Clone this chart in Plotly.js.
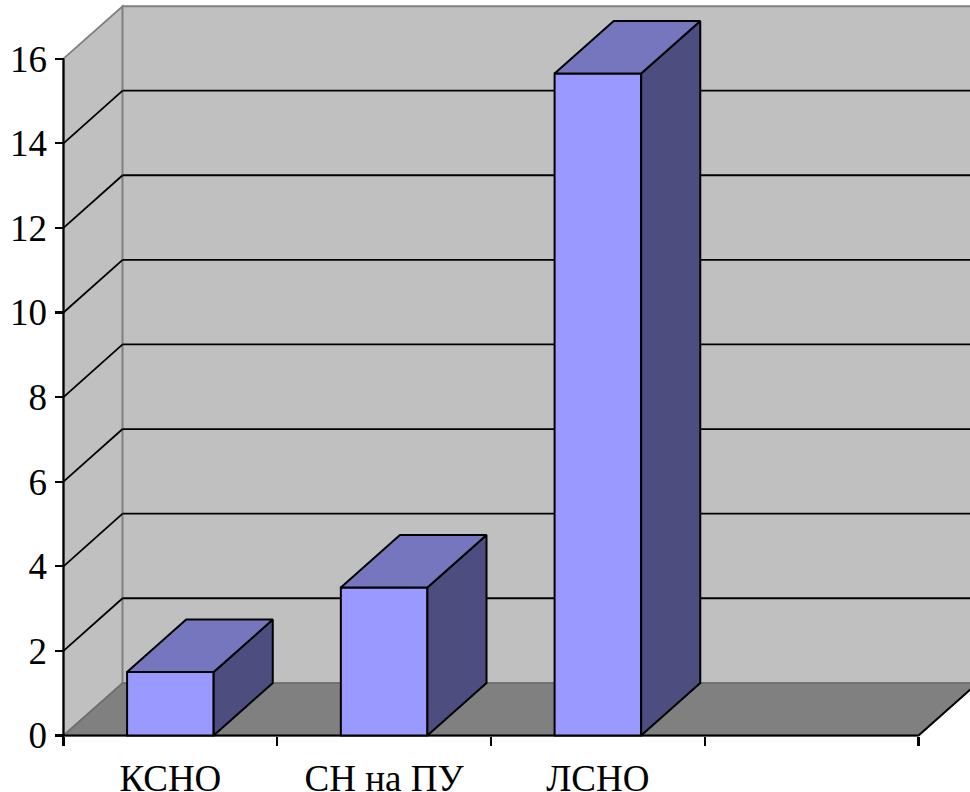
<!DOCTYPE html>
<html><head><meta charset="utf-8">
<script src="https://cdn.plot.ly/plotly-3.0.1.min.js"></script>
<style>html,body{margin:0;padding:0;background:#fff;overflow:hidden}#c{width:970px;height:792px}</style>
</head><body><div id="c"></div>
<script>
const categories = ['КСНО', 'СН на ПУ', 'ЛСНО'];
const positions = [0, 1, 2];
const values = [1.5, 3.5, 15.65];
const yTicks = [0, 2, 4, 6, 8, 10, 12, 14, 16];
const xBoundaries = [-0.5, 0.5, 1.5, 2.5, 3.5];

const DX = 0.2765, DY = 1.24, GRID_DY = 1.245, BW = 0.405;
const X0 = xBoundaries[0], X1 = xBoundaries[4], Y1 = 16;
const FONT = {family: '"Liberation Serif", "Times New Roman", serif', size: 37, color: '#000'};
const W = 970, H = 792, M = {l: 56, r: 0, t: 0, b: 46, pad: 0};
const xUnit = 213.75, yUnit = 42.3, axisPx = 63.5, basePx = 735.5;
const xRange = [X0 - (axisPx - M.l) / xUnit, X0 + (W - axisPx) / xUnit];
const yRange = [-(H - M.b - basePx) / yUnit, basePx / yUnit];

function poly(pts) { return 'M' + pts.map(p => p.join(',')).join('L') + 'Z'; }
function shapePoly(pts, fill, lineColor, w) {
  return {type: 'path', path: poly(pts), xref: 'x', yref: 'y', layer: 'below', fillcolor: fill,
          line: {color: lineColor, width: w}};
}
function seg(a, b, color, w) {
  return {type: 'line', xref: 'x', yref: 'y', layer: 'below', x0: a[0], y0: a[1], x1: b[0], y1: b[1],
          line: {color: color, width: w}};
}
const GREY = '#808080';
const shapes = [
  shapePoly([[X0, 0], [X0 + DX, DY], [X0 + DX, Y1 + DY], [X0, Y1]], '#C0C0C0', GREY, 1.8),
  shapePoly([[X0 + DX, DY], [X1 + DX, DY], [X1 + DX, Y1 + DY], [X0 + DX, Y1 + DY]], '#C0C0C0', GREY, 1.8),
  shapePoly([[X0, 0], [X1, 0], [X1 + DX, DY], [X0 + DX, DY]], GREY, '#6E6E6E', 1.8),
];
yTicks.filter(v => v > 0 && v < Y1).forEach(v => {
  shapes.push(seg([X0, v], [X0 + DX, v + GRID_DY], '#000', 1.8));
  shapes.push(seg([X0 + DX, v + GRID_DY], [X1 + DX, v + GRID_DY], '#000', 1.8));
});
shapes.push(seg([X0, 0], [X0, Y1], '#000', 2.2));
shapes.push(seg([X0, 0], [X1, 0], '#000', 2.2));
shapes.push(seg([X1, 0], [X1 + DX, DY], '#000', 1.8));

const traces = [{
  type: 'bar', x: positions, y: values, width: BW,
  marker: {color: '#9999FF', line: {color: '#000', width: 2}},
  hoverinfo: 'skip', showlegend: false
}];
function face(pts, color) {
  const c = pts.concat([pts[0]]);
  return {type: 'scatter', mode: 'lines', x: c.map(p => p[0]), y: c.map(p => p[1]), fill: 'toself',
          fillcolor: color, line: {color: '#000', width: 2}, hoverinfo: 'skip', showlegend: false};
}
positions.forEach((p, i) => {
  const l = p - BW / 2, r = p + BW / 2, v = values[i];
  traces.push(face([[r, 0], [r + DX, DY], [r + DX, v + DY], [r, v]], '#4D4D80'));
  traces.push(face([[l, v], [r, v], [r + DX, v + DY], [l + DX, v + DY]], '#7676BF'));
});

const layout = {
  width: W, height: H, margin: M, paper_bgcolor: '#fff', plot_bgcolor: 'rgba(0,0,0,0)',
  showlegend: false, bargap: 0, shapes: shapes,
  xaxis: {
    type: 'linear', range: xRange, anchor: 'free', position: (H - M.b - basePx) / (H - M.b),
    tickmode: 'array', tickvals: positions, ticktext: categories, ticks: '', ticklabelstandoff: 17,
    showgrid: false, zeroline: false, showline: false, tickfont: FONT,
    minor: {tickmode: 'array', tickvals: xBoundaries, ticks: 'outside', ticklen: 9, tickwidth: 2.2, tickcolor: '#000', showgrid: false}
  },
  yaxis: {
    range: yRange, anchor: 'free', position: (axisPx - M.l) / (W - M.l),
    tickmode: 'array', tickvals: yTicks, ticktext: yTicks.map(String), ticks: 'outside', ticklen: 9, tickwidth: 2.2,
    tickcolor: '#000', showgrid: false, zeroline: false, showline: false, tickfont: FONT
  }
};
Plotly.newPlot('c', traces, layout, {displayModeBar: false, staticPlot: true});
</script></body></html>
